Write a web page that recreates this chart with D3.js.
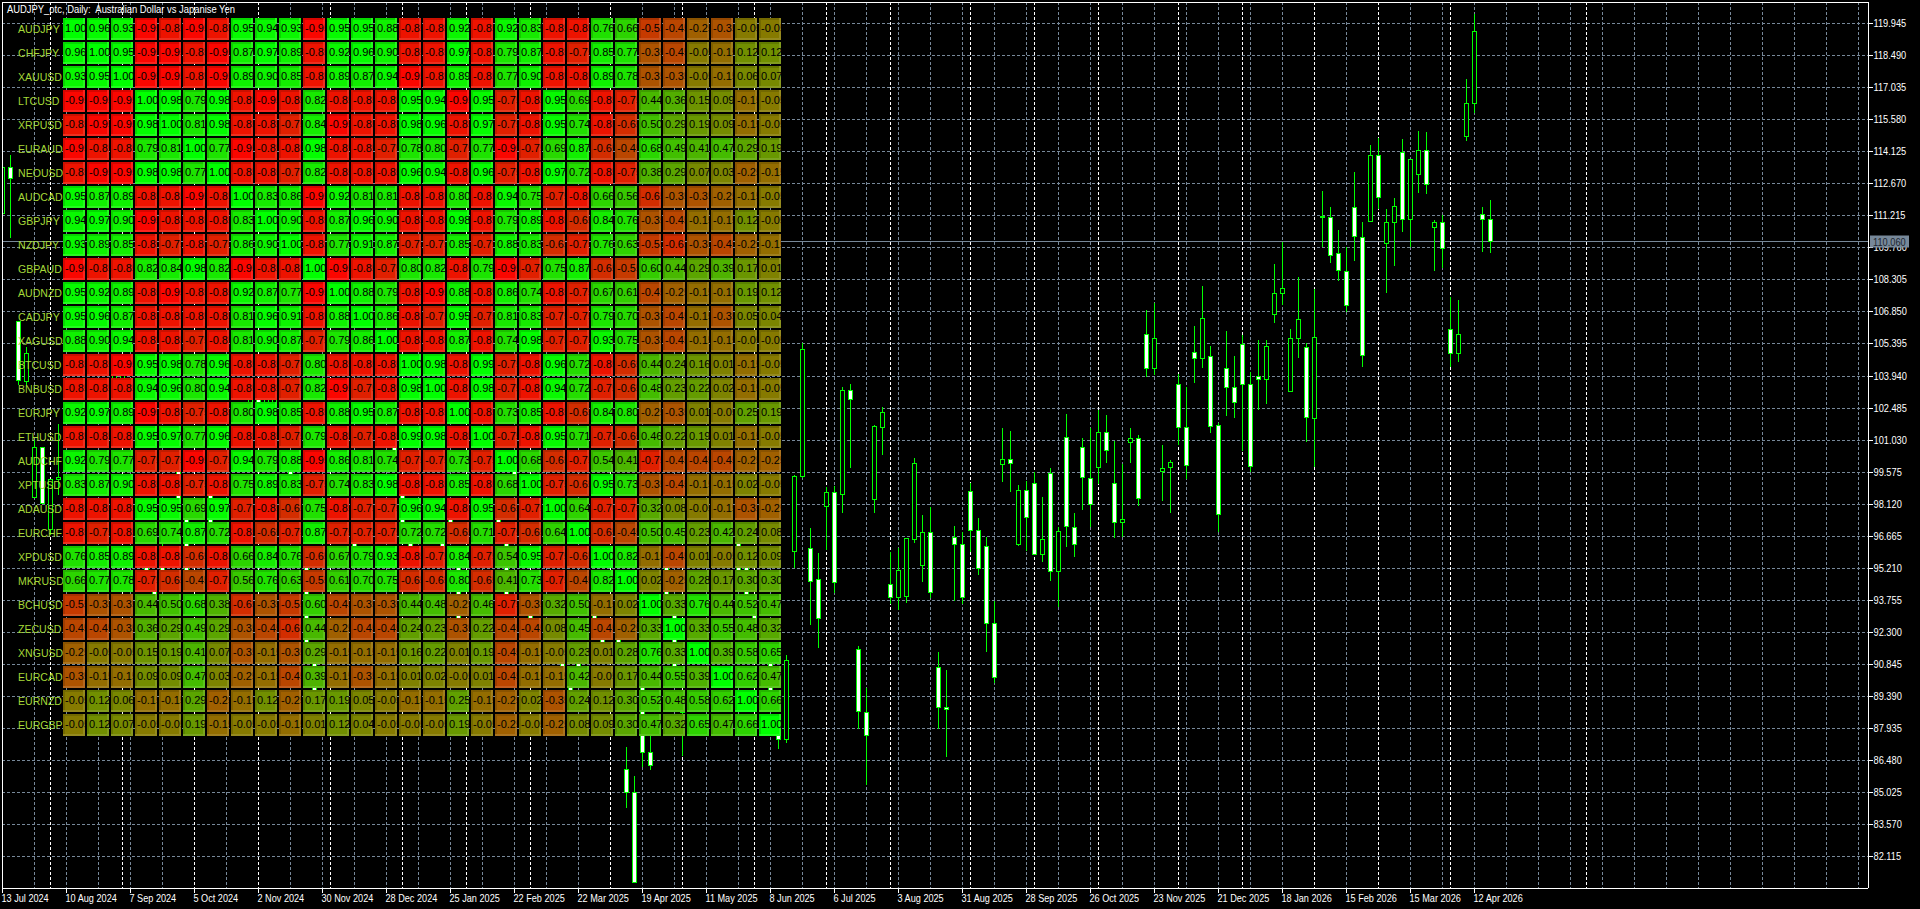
<!DOCTYPE html>
<html><head><meta charset="utf-8">
<script src="https://cdn.jsdelivr.net/npm/d3@7/dist/d3.min.js"></script>
<style>
html,body{margin:0;padding:0;background:#000;overflow:hidden}
svg{display:block}
text{font-family:"Liberation Sans",Arial,sans-serif;white-space:pre}
.ax text{font-size:11px;fill:#fff}
</style></head><body><div id="c"></div>
<script>
const title="AUDJPY_otc, Daily:  Australian Dollar vs Japanise Yen";
const symbols=["AUDJPY","CHFJPY","XAUUSD","LTCUSD","XRPUSD","EURAUD","NEOUSD","AUDCAD","GBPJPY","NZDJPY","GBPAUD","AUDNZD","CADJPY","XAGUSD","BTCUSD","BNBUSD","EURJPY","ETHUSD","AUDCHF","XPTUSD","ADAUSD","EURCHF","XPDUSD","MKRUSD","BCHUSD","ZECUSD","XNGUSD","EURCAD","EURNZD","EURGBP"];
const corr=[
[1,.96,.93,-.95,-.85,-.95,-.85,.95,.94,.93,-.95,.95,.95,.88,-.85,-.85,.92,-.85,.92,.83,-.85,-.85,.76,.66,-.55,-.45,-.25,-.35,-.05,-.05],
[.96,1,.95,-.95,-.95,-.85,-.95,.87,.97,.89,-.85,.92,.96,.90,-.85,-.85,.97,-.85,.79,.87,-.85,-.75,.85,.77,-.35,-.45,-.05,-.15,.12,.12],
[.93,.95,1,-.95,-.95,-.85,-.95,.89,.90,.85,-.85,.89,.87,.94,-.95,-.85,.89,-.85,.77,.90,-.85,-.85,.89,.78,-.35,-.35,-.05,-.15,.06,.07],
[-.95,-.95,-.95,1,.98,.79,.98,-.85,-.95,-.85,.82,-.85,-.85,-.85,.95,.94,-.95,.95,-.75,-.85,.95,.69,-.85,-.75,.44,.36,.15,.09,-.15,-.05],
[-.85,-.95,-.95,.98,1,.81,.98,-.85,-.85,-.75,.84,-.95,-.85,-.85,.98,.96,-.85,.97,-.75,-.85,.95,.74,-.85,-.65,.50,.29,.19,.09,-.15,-.05],
[-.95,-.85,-.85,.79,.81,1,.77,-.95,-.85,-.85,.98,-.85,-.85,-.75,.78,.80,-.75,.77,-.95,-.75,.69,.87,-.65,-.45,.68,.49,.41,.47,.29,.19],
[-.85,-.95,-.95,.98,.98,.77,1,-.85,-.85,-.75,.82,-.85,-.85,-.85,.96,.94,-.85,.96,-.75,-.85,.97,.72,-.85,-.75,.38,.29,.07,.03,-.25,-.15],
[.95,.87,.89,-.85,-.85,-.95,-.85,1,.83,.86,-.95,.92,.81,.81,-.85,-.85,.80,-.85,.94,.75,-.75,-.85,.66,.56,-.65,-.35,-.35,-.25,-.15,-.05],
[.94,.97,.90,-.95,-.85,-.85,-.85,.83,1,.90,-.85,.87,.96,.90,-.85,-.85,.98,-.85,.79,.89,-.85,-.65,.84,.76,-.35,-.45,-.15,-.15,.12,-.05],
[.93,.89,.85,-.85,-.75,-.85,-.75,.86,.90,1,-.85,.77,.91,.87,-.75,-.75,.85,-.75,.88,.83,-.65,-.75,.76,.63,-.55,-.65,-.35,-.45,-.25,-.15],
[-.95,-.85,-.85,.82,.84,.98,.82,-.95,-.85,-.85,1,-.95,-.85,-.75,.80,.82,-.85,.79,-.95,-.75,.75,.87,-.65,-.55,.60,.44,.29,.39,.17,.01],
[.95,.92,.89,-.85,-.95,-.85,-.85,.92,.87,.77,-.95,1,.88,.79,-.85,-.95,.88,-.85,.86,.74,-.85,-.75,.67,.61,-.45,-.25,-.15,-.15,.19,.12],
[.95,.96,.87,-.85,-.85,-.85,-.85,.81,.96,.91,-.85,.88,1,.86,-.85,-.75,.95,-.75,.81,.83,-.75,-.75,.79,.70,-.35,-.45,-.15,-.35,.05,.04],
[.88,.90,.94,-.85,-.85,-.75,-.85,.81,.90,.87,-.75,.79,.86,1,-.85,-.85,.87,-.85,.74,.98,-.75,-.75,.93,.75,-.35,-.45,-.15,-.15,-.05,-.05],
[-.85,-.85,-.95,.95,.98,.78,.96,-.85,-.85,-.75,.80,-.85,-.85,-.85,1,.98,-.85,.99,-.75,-.85,.96,.72,-.85,-.65,.44,.24,.16,.01,-.15,-.05],
[-.85,-.85,-.85,.94,.96,.80,.94,-.85,-.85,-.75,.82,-.95,-.75,-.85,.98,1,-.85,.98,-.75,-.85,.94,.72,-.75,-.65,.48,.23,.22,.02,-.15,-.05],
[.92,.97,.89,-.95,-.85,-.75,-.85,.80,.98,.85,-.85,.88,.95,.87,-.85,-.85,1,-.85,.73,.85,-.85,-.65,.84,.80,-.25,-.35,.01,-.05,.25,.19],
[-.85,-.85,-.85,.95,.97,.77,.96,-.85,-.85,-.75,.79,-.85,-.75,-.85,.99,.98,-.85,1,-.75,-.85,.95,.71,-.75,-.65,.46,.22,.19,.01,-.15,-.05],
[.92,.79,.77,-.75,-.75,-.95,-.75,.94,.79,.88,-.95,.86,.81,.74,-.75,-.75,.73,-.75,1,.68,-.65,-.75,.54,.41,-.75,-.45,-.45,-.45,-.25,-.25],
[.83,.87,.90,-.85,-.85,-.75,-.85,.75,.89,.83,-.75,.74,.83,.98,-.85,-.85,.85,-.85,.68,1,-.75,-.65,.95,.73,-.35,-.45,-.15,-.15,.02,-.05],
[-.85,-.85,-.85,.95,.95,.69,.97,-.75,-.85,-.65,.75,-.85,-.75,-.75,.96,.94,-.85,.95,-.65,-.75,1,.64,-.75,-.75,.32,.08,-.05,-.15,-.35,-.25],
[-.85,-.75,-.85,.69,.74,.87,.72,-.85,-.65,-.75,.87,-.75,-.75,-.75,.72,.72,-.65,.71,-.75,-.65,.64,1,-.65,-.45,.50,.45,.23,.42,.24,.08],
[.76,.85,.89,-.85,-.85,-.65,-.85,.66,.84,.76,-.65,.67,.79,.93,-.85,-.75,.84,-.75,.54,.95,-.75,-.65,1,.82,-.15,-.45,.01,-.05,.12,.09],
[.66,.77,.78,-.75,-.65,-.45,-.75,.56,.76,.63,-.55,.61,.70,.75,-.65,-.65,.80,-.65,.41,.73,-.75,-.45,.82,1,.02,-.25,.28,.17,.30,.30],
[-.55,-.35,-.35,.44,.50,.68,.38,-.65,-.35,-.55,.60,-.45,-.35,-.35,.44,.48,-.25,.46,-.75,-.35,.32,.50,-.15,.02,1,.33,.76,.44,.52,.47],
[-.45,-.45,-.35,.36,.29,.49,.29,-.35,-.45,-.65,.44,-.25,-.45,-.45,.24,.23,-.35,.22,-.45,-.45,.08,.45,-.45,-.25,.33,1,.33,.55,.48,.32],
[-.25,-.05,-.05,.15,.19,.41,.07,-.35,-.15,-.35,.29,-.15,-.15,-.15,.16,.22,.01,.19,-.45,-.15,-.05,.23,.01,.28,.76,.33,1,.39,.58,.65],
[-.35,-.15,-.15,.09,.09,.47,.03,-.25,-.15,-.45,.39,-.15,-.35,-.15,.01,.02,-.05,.01,-.45,-.15,-.15,.42,-.05,.17,.44,.55,.39,1,.62,.47],
[-.05,.12,.06,-.15,-.15,.29,-.25,-.15,.12,-.25,.17,.19,.05,-.05,-.15,-.15,.25,-.15,-.25,.02,-.35,.24,.12,.30,.52,.48,.58,.62,1,.66],
[-.05,.12,.07,-.05,-.05,.19,-.15,-.05,-.05,-.15,.01,.12,.04,-.05,-.05,-.05,.19,-.05,-.25,-.05,-.25,.08,.09,.30,.47,.32,.65,.47,.66,1]
];
const priceTicks=[119.945,118.49,117.035,115.58,114.125,112.67,111.215,109.76,108.305,106.85,105.395,103.94,102.485,101.03,99.575,98.12,96.665,95.21,93.755,92.3,90.845,89.39,87.935,86.48,85.025,83.57,82.115];
const dateLabels=["13 Jul 2024","10 Aug 2024","7 Sep 2024","5 Oct 2024","2 Nov 2024","30 Nov 2024","28 Dec 2024","25 Jan 2025","22 Feb 2025","22 Mar 2025","19 Apr 2025","11 May 2025","8 Jun 2025","6 Jul 2025","3 Aug 2025","31 Aug 2025","28 Sep 2025","26 Oct 2025","23 Nov 2025","21 Dec 2025","18 Jan 2026","15 Feb 2026","15 Mar 2026","12 Apr 2026"];
const separators=[6,15,24,32,41,50,58,66,76,85,94,103,111,121,129,137,147,155,164,172,181,198];
const lastPrice=110.06;
const barIndex=[0,1,2,3,4,5,6,7,14,15,
18,19,20,22,23,26,31,32,33,34,
36,38,39,44,49,50,51,55,56,57,
62,63,64,66,70,71,72,74,75,77,
78,79,80,81,83,84,85,92,93,94,
96,97,98,99,100,101,102,103,104,105,
106,107,108,109,110,111,112,113,114,115,
116,117,118,119,120,121,122,123,124,125,
126,127,128,129,130,131,132,133,134,135,
136,137,138,139,140,141,142,143,144,145,
146,147,148,149,150,151,152,153,154,155,
156,157,158,159,160,161,162,163,164,165,
166,167,168,169,170,171,172,173,174,175,
176,177,178,179,180,181,182,183,184,185,
186];
const open=[111.34,113.43,106.44,103.71,98.45,100.72,96.99,99.27,103.67,103.62,
95.45,94.36,95.45,99.90,97.63,98.77,102.54,103.08,102.54,102.54,
99.81,95.59,91.28,96.50,100.90,98.77,96.50,96.50,97.63,95.59,
97.63,96.59,99.81,93.27,91.10,90.00,91.10,93.27,92.18,92.18,
86.10,85.06,89.91,86.87,95.50,93.32,88.69,96.59,95.50,93.27,
91.10,88.10,87.46,96.01,99.42,96.13,94.73,98.05,98.69,98.58,
103.31,91.55,88.70,98.34,101.64,94.51,93.90,93.97,96.56,95.38,
96.85,90.72,88.93,96.62,96.30,98.73,96.94,96.24,92.71,99.93,
100.16,96.33,98.75,99.07,95.85,99.52,95.08,101.16,97.10,100.71,
99.32,99.82,101.39,99.07,97.30,100.96,101.11,105.83,104.29,99.62,
99.80,103.56,101.61,105.02,104.74,104.84,101.70,104.29,103.46,105.38,
103.56,103.96,103.79,106.74,107.70,103.27,105.65,105.24,102.05,111.22,
111.17,109.51,108.72,111.63,110.27,110.99,113.96,109.99,110.92,114.13,
111.06,113.10,114.19,110.69,110.92,106.06,104.97,114.82,116.32,111.28,
111.06];
const high=[113.75,113.98,106.44,105.26,101.04,100.72,99.27,101.76,104.12,104.21,
95.70,94.60,96.40,100.20,97.90,99.10,103.08,103.50,103.08,103.08,
100.10,95.90,91.60,96.80,101.20,99.10,96.80,96.80,97.90,95.90,
97.90,96.90,100.10,93.60,91.40,90.30,91.40,93.60,92.50,92.50,
87.10,85.78,90.20,88.10,95.80,93.60,89.50,96.90,95.80,93.60,
91.40,88.40,91.28,99.45,105.44,97.04,95.91,98.92,98.95,103.44,
103.58,91.68,89.78,101.72,102.55,95.95,96.13,96.59,100.22,97.63,
98.01,91.41,90.59,97.13,96.87,99.10,97.48,96.62,93.73,101.57,
101.44,98.99,99.17,99.60,98.46,99.75,97.10,102.22,97.71,101.11,
101.57,102.40,102.17,100.99,99.95,101.57,101.26,106.94,107.27,100.81,
100.13,104.03,103.46,106.21,108.03,105.30,101.79,105.98,104.85,105.80,
104.14,105.58,105.58,109.03,110.01,106.08,108.42,105.44,107.89,112.34,
111.60,110.57,109.78,113.19,110.92,114.43,114.73,111.51,112.01,114.69,
113.78,115.07,115.01,111.02,111.25,107.54,107.39,117.43,120.38,111.60,
111.93];
const low=[111.12,110.21,103.53,103.53,98.45,98.18,96.72,98.54,103.67,103.62,
94.55,93.60,94.60,97.80,94.50,96.80,102.54,102.20,102.54,102.54,
98.90,91.20,89.20,95.60,100.10,96.80,95.60,95.60,96.80,92.30,
96.80,93.50,98.90,92.40,90.20,89.20,90.20,92.40,91.30,91.30,
84.33,80.97,86.19,86.05,93.50,90.20,86.70,94.50,93.50,92.40,
89.20,87.01,87.28,95.23,99.31,92.64,91.59,96.04,94.10,97.72,
99.78,87.92,85.37,97.72,100.36,93.59,93.32,93.65,96.37,94.60,
93.86,87.92,86.66,93.74,93.59,95.97,94.91,91.43,90.02,99.14,
98.69,96.22,96.01,95.85,95.51,94.65,93.47,96.19,95.74,97.86,
97.10,99.04,99.98,96.60,96.65,100.01,98.05,103.88,103.99,98.27,
97.74,100.81,99.27,103.64,104.32,101.37,96.85,102.14,102.05,100.54,
99.60,102.40,102.67,106.36,107.17,103.23,104.77,100.96,99.82,109.78,
109.09,108.25,106.86,109.16,104.36,110.95,111.52,107.72,108.94,110.49,
109.81,112.24,112.20,108.72,108.83,104.36,104.59,114.62,115.90,109.59,
109.54];
const close=[113.43,112.93,103.76,104.99,100.72,98.18,99.27,99.36,104.12,104.21,
94.91,93.82,94.91,98.08,94.82,97.09,103.08,102.54,103.08,103.08,
99.27,91.50,89.46,95.95,100.36,97.09,95.95,95.95,97.09,92.64,
97.09,93.77,99.27,92.73,90.55,89.46,90.55,92.73,91.64,91.64,
85.06,80.97,86.87,86.28,93.77,90.50,89.23,94.82,93.77,92.73,
89.46,87.46,91.05,99.42,105.15,94.65,92.95,98.69,94.59,103.31,
102.91,88.73,87.64,101.66,102.32,93.90,95.12,96.57,99.98,96.85,
94.15,88.90,88.84,96.30,93.90,96.94,95.21,92.71,90.26,100.16,
100.01,98.75,97.53,95.85,96.53,95.08,96.89,97.12,96.30,99.34,
98.12,101.39,100.57,97.30,97.44,101.11,98.39,104.29,105.65,99.75,
100.02,101.61,99.91,104.74,106.56,101.69,97.66,103.46,102.78,103.56,
99.84,103.79,105.29,107.70,107.92,105.65,106.52,102.07,105.73,111.15,
109.43,108.74,107.15,110.28,104.88,113.96,112.08,110.92,111.67,111.06,
113.78,114.19,112.65,110.92,109.74,104.97,105.83,116.32,119.59,111.06,
110.06];

const W=1920,H=909,L=2,T=2,R=1868,B=888;
const x=d3.scaleLinear().domain([0,233]).range([2,1866]);
const y=d3.scaleLinear().domain([119.945,82.115]).range([23.5,856.7]);
const px=v=>Math.floor(v)+0.5;
const condense=(sel,k)=>sel.each(function(){
  this.setAttribute("textLength",(this.getComputedTextLength()*k).toFixed(1));
  this.setAttribute("lengthAdjust","spacingAndGlyphs");
});
const svg=d3.select("#c").append("svg").attr("width",W).attr("height",H).style("background","#000");
svg.append("defs").append("clipPath").attr("id","plot").append("rect").attr("x",L).attr("y",T).attr("width",R-L).attr("height",B-T);

// grid
const grid=svg.append("g").attr("shape-rendering","crispEdges");
const grey="#778899";
grid.selectAll(".h").data(priceTicks).join("line").attr("x1",L).attr("x2",R).attr("y1",d=>px(y(d))).attr("y2",d=>px(y(d))).attr("stroke",grey).attr("stroke-dasharray","3 2");
grid.selectAll(".v").data(d3.range(0,233,4)).join("line").attr("x1",d=>x(d)+.5).attr("x2",d=>x(d)+.5).attr("y1",T).attr("y2",B).attr("stroke",grey).attr("stroke-dasharray","3 2");
grid.selectAll(".s").data(separators).join("line").attr("x1",d=>x(d)+.5).attr("x2",d=>x(d)+.5).attr("y1",T).attr("y2",B).attr("stroke","#fff").attr("stroke-dasharray","3 2");
grid.append("line").attr("x1",L).attr("x2",R).attr("y1",px(y(lastPrice))).attr("y2",px(y(lastPrice))).attr("stroke",grey);

// candles
const cand=svg.append("g").attr("clip-path","url(#plot)").attr("shape-rendering","crispEdges");
barIndex.forEach((b,i)=>{
  const cx=x(b),o=open[i],c=close[i];
  const yt=Math.round(y(Math.max(o,c))),yb=Math.round(y(Math.min(o,c)));
  cand.append("line").attr("x1",cx+.5).attr("x2",cx+.5).attr("y1",y(high[i])).attr("y2",y(low[i])).attr("stroke","#00ff00");
  cand.append("rect").attr("x",cx-1.5).attr("width",4).attr("y",yt+.5).attr("height",Math.max(yb-yt,1))
    .attr("fill",c<o?"#fff":"#000").attr("stroke","#00ff00");
});

// frame
const fr=svg.append("g").attr("shape-rendering","crispEdges").attr("stroke","#fff");
fr.append("line").attr("x1",L+.5).attr("x2",L+.5).attr("y1",T).attr("y2",B);
fr.append("line").attr("x1",L).attr("x2",R).attr("y1",T+.5).attr("y2",T+.5);

// axes
const axR=d3.axisRight(y).tickValues(priceTicks).tickFormat(d3.format(".3f")).tickSize(4).offset(0);
const gR=svg.append("g").attr("class","ax").attr("transform",`translate(${R+.5},0)`).call(axR);
gR.select(".domain").attr("d",`M0,${T}V${B}`).attr("stroke","#fff").attr("shape-rendering","crispEdges");
gR.selectAll(".tick").attr("transform",d=>`translate(0,${px(y(d))})`);
gR.selectAll(".tick line").attr("stroke","#fff").attr("shape-rendering","crispEdges");
gR.selectAll(".tick text").attr("x",5).attr("dy","0.36em").attr("text-anchor","start").call(condense,.84);

const tickBars=dateLabels.map((_,i)=>i*8);
const axB=d3.axisBottom(x).tickValues(tickBars).tickFormat((d,i)=>dateLabels[i]).tickSize(4).offset(0);
const gB=svg.append("g").attr("class","ax").attr("transform",`translate(0,${B+.5})`).call(axB);
gB.select(".domain").attr("d",`M${L},0H${R}`).attr("stroke","#fff").attr("shape-rendering","crispEdges");
gB.selectAll(".tick").attr("transform",d=>`translate(${x(d)+.5},0)`);
gB.selectAll(".tick line").attr("stroke","#fff").attr("shape-rendering","crispEdges");
gB.selectAll(".tick text").attr("text-anchor","start").attr("x",-1).attr("y",0).attr("dy","13px").call(condense,.83);

// price tag
const tagY=px(y(lastPrice));
svg.append("rect").attr("x",R+2).attr("y",tagY-6).attr("width",39).attr("height",12).attr("fill",grey);
svg.append("text").attr("x",R+5).attr("y",tagY+4).text(d3.format(".3f")(lastPrice))
  .style("font-size","11px").style("fill","#1c2630").call(condense,.84);

// title
svg.append("text").attr("x",7).attr("y",13).attr("fill","#fff").style("font-size","11px").text(title)
  .attr("textLength",228).attr("lengthAdjust","spacingAndGlyphs");

// table
const cw=22,cp=24,tx=63,ty=18;
const col=d3.scaleLinear().domain([0,1]).range([tx,tx+cp]);
const row=d3.scaleLinear().domain([0,1]).range([ty,ty+cp]);
const colour=v=>d3.rgb(Math.round(128*(1-v)),Math.round(128*(1+v)),0);
const mix=(c,t,a)=>d3.rgb(c.r+(t-c.r)*a,c.g+(t-c.g)*a,c.b+(t-c.b)*a);
const tbl=svg.append("g");
symbols.forEach((s,r)=>{
  tbl.append("text").attr("x",18).attr("y",row(r)+15).attr("fill","#a4d838").style("font-size","11px").text(s).call(condense,.96);
  corr[r].forEach((v,c)=>{
    const cell=tbl.append("svg").attr("x",col(c)).attr("y",row(r)).attr("width",cw).attr("height",cw);
    const base=colour(v);
    cell.append("rect").attr("width",cw).attr("height",cw).attr("fill",base);
    const dark=mix(base,0,.14),lite=mix(base,255,.12);
    cell.append("path").attr("d",`M0,0H${cw}V2H2V${cw}H0Z`).attr("fill",dark);
    cell.append("path").attr("d",`M${cw},${cw}H0V${cw-2}H${cw-2}V0H${cw}Z`).attr("fill",lite);
    cell.append("text").attr("x",2).attr("y",14).attr("fill","#000").style("font-size","11px").text(v.toFixed(2));
  });
});
</script></body></html>
